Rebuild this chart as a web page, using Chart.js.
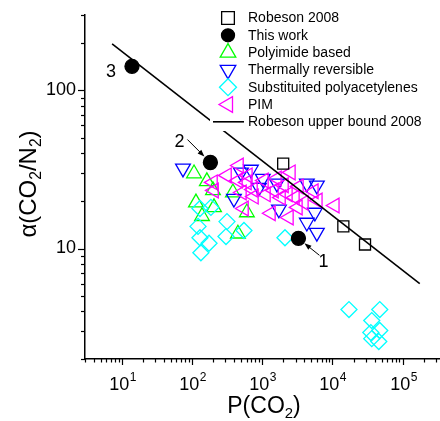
<!DOCTYPE html>
<html>
<head>
<meta charset="utf-8">
<script src="https://cdn.jsdelivr.net/npm/chart.js@4/dist/chart.umd.min.js"></script>
<style>
  html, body { margin: 0; padding: 0; background: #fff; }
  #wrap { width: 440px; height: 421px; position: relative; }
</style>
</head>
<body>
<div id="wrap"><canvas id="chart"></canvas></div>
<script>
// values (P in Barrer, alpha = CO2/N2 selectivity)
const robesonP = [1990, 14300, 29100];
const robesonA = [34.4, 13.8, 10.6];
const thisWorkP = [3280, 183, 14];
const thisWorkA = [11.6, 35, 142];
const thisWorkLabels = ['1', '2', '3'];
const polyimideP = [107, 163, 199, 114, 206, 139, 383, 605, 451];
const polyimideA = [29.8, 26.6, 23.3, 19.5, 18.2, 16.0, 22.6, 16.9, 12.4];
const thermalP = [74.5, 498, 691, 1020, 1620, 396, 1730, 4320, 6000, 5620, 4320, 6000, 897];
const thermalA = [32.1, 30.3, 31.6, 27.7, 25.8, 20.7, 17.7, 25.8, 25.1, 16.9, 14.6, 12.6, 24.3];
const acetyleneP = [130, 186, 122, 315, 550, 305, 130, 175, 134, 2110, 17200, 47200, 36300, 47200, 35200, 36300, 45700];
const acetyleneA = [17.9, 18.2, 13.8, 14.8, 13.0, 11.9, 11.7, 10.8, 9.4, 11.7, 4.11, 4.11, 3.50, 3.03, 2.94, 2.69, 2.58];
const pimP = [467, 315, 199, 206, 451, 605, 514, 738, 1057, 1130, 762, 550, 1330, 2400, 2560, 2040, 2320, 2920, 3920, 5430, 6190, 10800, 3220, 1850, 1470, 625, 3330, 1620];
const pimA = [33.5, 29.0, 26.2, 23.3, 26.9, 26.2, 22.6, 23.6, 26.9, 22.0, 21.3, 17.9, 16.7, 15.7, 30.3, 25.1, 22.0, 21.0, 19.5, 23.0, 20.1, 18.7, 18.2, 21.0, 23.3, 29.0, 24.7, 27.7];
const boundP = [7.3, 175000];
const boundA = [197, 6.0];

const FONT = '"Liberation Sans", Arial, sans-serif';
const pts = (xs, ys) => xs.map((x, i) => ({ x, y: ys[i] }));
const isDecade = (v) => Math.abs(Math.log10(v) - Math.round(Math.log10(v))) < 1e-9;
const isWhole = (v) => { const m = v / Math.pow(10, Math.floor(Math.log10(v) + 1e-9)); return Math.abs(m - Math.round(m)) < 1e-6; };

const marker = (color, style, radius, rotation, fill) => ({
  showLine: false, pointStyle: style, pointRadius: radius, pointHoverRadius: radius,
  pointRotation: rotation, borderColor: color, backgroundColor: fill || 'transparent',
  pointBorderWidth: 1.3, borderWidth: 1.3,
});

const datasets = [
  { label: 'Robeson upper bound 2008', data: pts(boundP, boundA), showLine: true, borderColor: '#000', borderWidth: 1.6, pointRadius: 0 },
  { label: 'This work', data: pts(thisWorkP, thisWorkA), ...marker('#000', 'circle', 7, 0, '#000') },
  { label: 'Robeson 2008', data: pts(robesonP, robesonA), ...marker('#000', 'rect', 7.8, 0) },
  { label: 'PIM', data: pts(pimP, pimA), ...marker('#ff00ff', 'triangle', 8.5, 270) },
  { label: 'Thermally reversible', data: pts(thermalP, thermalA), ...marker('#0000ff', 'triangle', 8.5, 180) },
  { label: 'Substituited polyacetylenes', data: pts(acetyleneP, acetyleneA), ...marker('#00ffff', 'rectRot', 8, 0) },
  { label: 'Polyimide based', data: pts(polyimideP, polyimideA), ...marker('#00ff00', 'triangle', 8.5, 0) },
];

// legend entries, in the order of the picture
const legendItems = [
  { text: 'Robeson 2008', ds: 2, r: 9 },
  { text: 'This work', ds: 1, r: 6.5 },
  { text: 'Polyimide based', ds: 6, r: 9 },
  { text: 'Thermally reversible', ds: 4, r: 9 },
  { text: 'Substituited polyacetylenes', ds: 5, r: 8.5 },
  { text: 'PIM', ds: 3, r: 9 },
  { text: 'Robeson upper bound 2008', ds: 0, line: true },
];

// label offsets for the numbered points (pixels from the point)
const numberOffsets = [
  { dx: 25, dy: 24, arrow: [21, 17, 6, 5] },
  { dx: -31, dy: -20, arrow: [-23, -23, -6, -6] },
  { dx: -21, dy: 6 },
];

function richText(ctx, parts, x, y, size) {
  let w = 0;
  parts.forEach(([t, sub]) => { ctx.font = (sub ? size * 0.65 : size) + 'px ' + FONT; w += ctx.measureText(t).width; });
  let cx = x - w / 2;
  parts.forEach(([t, sub]) => {
    ctx.font = (sub ? size * 0.65 : size) + 'px ' + FONT;
    ctx.fillText(t, cx, y + (sub ? size * 0.22 : 0));
    cx += ctx.measureText(t).width;
  });
}

const noPad = (s) => { s.paddingLeft = 0; s.paddingRight = 0; s.paddingTop = 0; s.paddingBottom = 0; };

const decor = {
  id: 'decor',
  afterDatasetsDraw(chart) {
    const ctx = chart.ctx;
    const xs = chart.scales.x, ys = chart.scales.y;
    ctx.save();
    // legend sits on a white box over the plot
    ctx.fillStyle = '#fff';
    ctx.fillRect(210, 8, 230, 123);
    ctx.textBaseline = 'middle';
    ctx.textAlign = 'left';
    ctx.font = '14px ' + FONT;
    legendItems.forEach((it, i) => {
      const y = 18 + i * 17.3;
      const ds = chart.data.datasets[it.ds];
      ctx.strokeStyle = ds.borderColor;
      ctx.lineWidth = it.line ? 1.6 : 1.3;
      if (it.line) {
        ctx.beginPath(); ctx.moveTo(213, y); ctx.lineTo(244, y); ctx.stroke();
      } else {
        ctx.fillStyle = ds.backgroundColor;
        Chart.helpers.drawPoint(ctx, { pointStyle: ds.pointStyle, radius: it.r, rotation: ds.pointRotation, borderWidth: 1.3 }, 228, y);
      }
      ctx.fillStyle = '#000';
      ctx.fillText(it.text, 248, y + 0.5);
    });
    // numbered labels for this work
    ctx.font = '18px ' + FONT;
    ctx.textAlign = 'center';
    ctx.fillStyle = '#000';
    ctx.strokeStyle = '#000';
    ctx.lineWidth = 1;
    thisWorkP.forEach((p, i) => {
      const px = xs.getPixelForValue(p), py = ys.getPixelForValue(thisWorkA[i]);
      const o = numberOffsets[i];
      ctx.fillText(thisWorkLabels[i], px + o.dx, py + o.dy);
      if (o.arrow) {
        const [x0, y0, x1, y1] = o.arrow;
        const ax = px + x0, ay = py + y0, bx = px + x1, by = py + y1;
        const ang = Math.atan2(by - ay, bx - ax);
        ctx.beginPath(); ctx.moveTo(ax, ay); ctx.lineTo(bx - Math.cos(ang) * 4, by - Math.sin(ang) * 4); ctx.stroke();
        ctx.beginPath();
        ctx.moveTo(bx, by);
        ctx.lineTo(bx - Math.cos(ang) * 7 + Math.sin(ang) * 2.6, by - Math.sin(ang) * 7 - Math.cos(ang) * 2.6);
        ctx.lineTo(bx - Math.cos(ang) * 7 - Math.sin(ang) * 2.6, by - Math.sin(ang) * 7 + Math.cos(ang) * 2.6);
        ctx.closePath(); ctx.fill();
      }
    });
    ctx.restore();
  },
  afterDraw(chart) {
    const ctx = chart.ctx;
    const xs = chart.scales.x, ys = chart.scales.y;
    const area = chart.chartArea;
    ctx.save();
    ctx.strokeStyle = '#000';
    ctx.lineWidth = 1.2;
    ys.ticks.forEach((t) => {
      if (!isWhole(t.value)) return;
      const y = Math.round(ys.getPixelForValue(t.value)) + 0.5;
      const len = isDecade(t.value) ? 7 : 4;
      ctx.beginPath(); ctx.moveTo(area.left, y); ctx.lineTo(area.left - len, y); ctx.stroke();
    });
    xs.ticks.forEach((t) => {
      if (!isWhole(t.value)) return;
      const x = Math.round(xs.getPixelForValue(t.value)) + 0.5;
      const len = isDecade(t.value) ? 6 : 3.5;
      ctx.beginPath(); ctx.moveTo(x, area.bottom); ctx.lineTo(x, area.bottom + len); ctx.stroke();
      if (isDecade(t.value)) {
        const e = String(Math.round(Math.log10(t.value)));
        ctx.fillStyle = '#000';
        ctx.textBaseline = 'alphabetic';
        ctx.textAlign = 'left';
        ctx.font = '18px ' + FONT;
        const w1 = ctx.measureText('10').width;
        ctx.font = '12px ' + FONT;
        const w2 = ctx.measureText(e).width;
        const x0 = x - (w1 + w2) / 2;
        ctx.font = '18px ' + FONT;
        ctx.fillText('10', x0, 390);
        ctx.font = '12px ' + FONT;
        ctx.fillText(e, x0 + w1 + 0.5, 381);
      }
    });
    // axis titles
    ctx.fillStyle = '#000';
    ctx.textBaseline = 'alphabetic';
    ctx.textAlign = 'left';
    richText(ctx, [['P(CO', 0], ['2', 1], [')', 0]], 264, 413, 23);
    ctx.translate(36, 184);
    ctx.rotate(-Math.PI / 2);
    richText(ctx, [['\u03b1(CO', 0], ['2', 1], ['/N', 0], ['2', 1], [')', 0]], 0, 0, 24);
    ctx.restore();
  },
};

new Chart(document.getElementById('chart'), {
  type: 'scatter',
  data: { datasets },
  options: {
    responsive: true,
    maintainAspectRatio: false,
    animation: false,
    layout: { autoPadding: false, padding: { top: 15, right: 0, bottom: 0, left: 0 } },
    plugins: { legend: { display: false }, tooltip: { enabled: false } },
    scales: {
      x: {
        type: 'logarithmic', min: 3, max: 340000,
        grid: { display: false, drawTicks: false },
        border: { display: true, color: '#000', width: 1.5 },
        ticks: { display: false, autoSkip: false },
        afterFit: (s) => { s.height = 62; noPad(s); },
      },
      y: {
        type: 'logarithmic', min: 2, max: 300,
        grid: { display: false, drawTicks: false },
        border: { display: true, color: '#000', width: 1.5 },
        ticks: {
          autoSkip: false, padding: 9, color: '#000',
          font: { family: FONT, size: 18 },
          callback: (v) => (isDecade(v) ? String(v) : ''),
        },
        afterFit: (s) => { s.width = 85; noPad(s); },
      },
    },
  },
  plugins: [decor],
});
</script>
</body>
</html>
